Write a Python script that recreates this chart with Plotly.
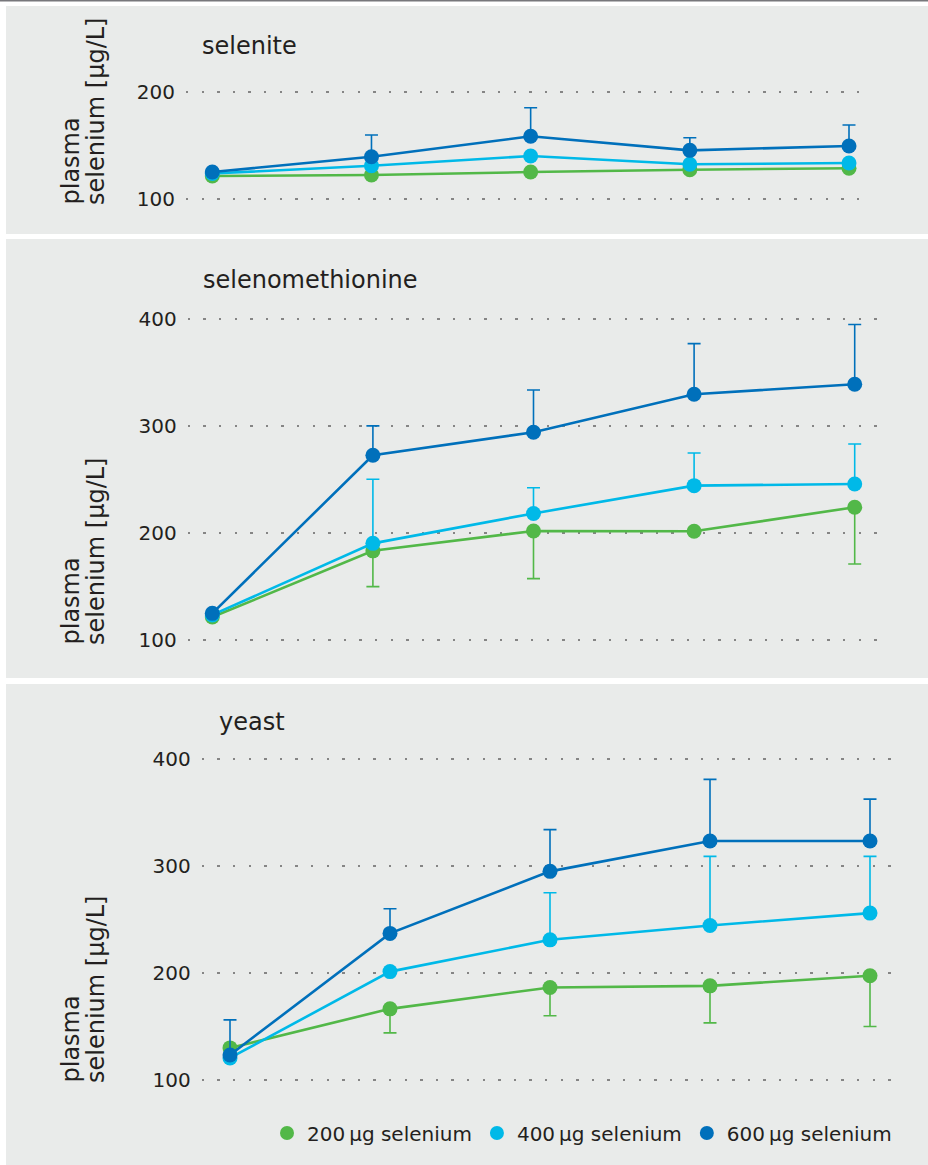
import plotly.graph_objects as go

# ---------------- data ----------------
timepoints = [0, 1, 2, 3, 4]
series_names = ["200\u2009µg selenium", "400\u2009µg selenium", "600\u2009µg selenium"]
series_colors = ["#52b848", "#00b9e8", "#0070bb"]
panel_titles = ["selenite", "selenomethionine", "yeast"]
axis_title_line1 = "plasma"
axis_title_line2 = "selenium [µg/L]"
ticks_small = [100, 200]
ticks_large = [100, 200, 300, 400]

# selenite
selenite_200 = [121.7, 122.6, 125.4, 127.6, 128.9]
selenite_400 = [124.0, 131.3, 140.3, 132.6, 133.8]
selenite_600 = [125.4, 139.7, 158.7, 145.6, 149.7]
selenite_200_err_down = [0, 0, 0, 0, 0]
selenite_400_err_up = [0, 0, 0, 0, 0]
selenite_600_err_up = [0, 20.2, 26.6, 11.8, 19.5]

# selenomethionine
selmet_200 = [121.0, 183.0, 201.6, 201.3, 223.8]
selmet_400 = [123.0, 190.0, 218.0, 244.0, 245.6]
selmet_600 = [124.5, 272.5, 294.0, 329.6, 339.0]
selmet_200_err_down = [0, 33.5, 44.6, 0, 53.1]
selmet_400_err_up = [0, 60.0, 24.0, 30.6, 37.4]
selmet_600_err_up = [0, 27.5, 39.6, 47.4, 55.8]

# yeast
yeast_200 = [130.0, 166.5, 186.5, 188.0, 197.5]
yeast_400 = [120.6, 201.3, 231.0, 244.4, 256.0]
yeast_600 = [123.4, 237.0, 295.0, 323.4, 323.4]
yeast_200_err_down = [0, 22.5, 26.5, 34.6, 47.5]
yeast_400_err_up = [0, 0, 44.0, 64.6, 53.0]
yeast_600_err_up = [32.8, 23.0, 39.0, 57.6, 39.1]

panels_values = [
    (selenite_200, selenite_400, selenite_600),
    (selmet_200, selmet_400, selmet_600),
    (yeast_200, yeast_400, yeast_600),
]
panels_errors = [
    (selenite_200_err_down, selenite_400_err_up, selenite_600_err_up),
    (selmet_200_err_down, selmet_400_err_up, selmet_600_err_up),
    (yeast_200_err_down, yeast_400_err_up, yeast_600_err_up),
]
panels_ticks = [ticks_small, ticks_large, ticks_large]

# ---------------- layout geometry (pixels) ----------------
W, H = 928, 1165
FONT = "DejaVu Sans"
TEXT = "#231f20"
BG = "#e9ebea"

geo = [
    dict(gl=186, gr=872, p0=212.3, p4=849.0, y100=199.3, k=1.0733, top=62, bot=226,
         bg=(6, 234), title_xy=(200, 46), ytitle_bottom=207),
    dict(gl=187.7, gr=878, p0=212.3, p4=854.7, y100=639.5, k=1.0683, top=295, bot=668,
         bg=(239, 678), title_xy=(201, 280), ytitle_bottom=647),
    dict(gl=201.7, gr=893, p0=230.0, p4=870.0, y100=1080.0, k=1.07, top=735, bot=1100,
         bg=(684, 1165), title_xy=(216.5, 722), ytitle_bottom=1085),
]

fig = go.Figure()
layout = dict(
    width=W, height=H, autosize=False,
    margin=dict(l=0, r=0, t=0, b=0),
    paper_bgcolor="white", plot_bgcolor="rgba(0,0,0,0)",
    font=dict(family=FONT, color=TEXT, size=20),
    showlegend=True,
    shapes=[], annotations=[],
)

for i, g in enumerate(geo):
    n = "" if i == 0 else str(i + 1)
    xs = (g["p4"] - g["p0"]) / 4.0
    xr = [-(g["p0"] - g["gl"]) / xs, 4 + (g["gr"] - g["p4"]) / xs]
    yr = [100 + (g["y100"] - g["bot"]) / g["k"], 100 + (g["y100"] - g["top"]) / g["k"]]
    layout["xaxis" + n] = dict(
        domain=[g["gl"] / W, g["gr"] / W], range=xr, anchor="y" + n,
        showgrid=False, zeroline=False, showline=False, showticklabels=False, ticks="",
        fixedrange=True,
    )
    layout["yaxis" + n] = dict(
        domain=[1 - g["bot"] / H, 1 - g["top"] / H], range=yr, anchor="x" + n,
        tickvals=panels_ticks[i], ticks="", ticklabelstandoff=10,
        showgrid=True, gridcolor="#858585", gridwidth=2.4, griddash="2.4px,13.2px",
        zeroline=False, showline=False, tickfont=dict(size=20, color=TEXT, family=FONT),
        fixedrange=True,
    )
    layout["shapes"].append(dict(type="rect", xref="paper", yref="paper", layer="below",
                                 x0=6 / W, x1=1, y0=1 - g["bg"][1] / H, y1=1 - g["bg"][0] / H,
                                 fillcolor=BG, line=dict(width=0)))
    layout["annotations"].append(dict(text=panel_titles[i], xref="paper", yref="paper",
                                      x=g["title_xy"][0] / W, y=1 - g["title_xy"][1] / H,
                                      xanchor="left", yanchor="middle", showarrow=False,
                                      font=dict(size=24, color=TEXT, family=FONT)))
    for txt, cx in ((axis_title_line1, 70), (axis_title_line2, 96)):
        layout["annotations"].append(dict(text=txt, xref="paper", yref="paper",
                                          x=cx / W, y=1 - g["ytitle_bottom"] / H,
                                          xanchor="center", yanchor="bottom", textangle=-90,
                                          showarrow=False,
                                          font=dict(size=24, color=TEXT, family=FONT)))

    vals = panels_values[i]
    errs = panels_errors[i]
    for s in range(3):
        if s == 0:
            err = dict(type="data", symmetric=False, array=[0] * 5, arrayminus=errs[s],
                       color=series_colors[s], thickness=1.6, width=6.5)
        else:
            err = dict(type="data", symmetric=False, array=errs[s], arrayminus=[0] * 5,
                       color=series_colors[s], thickness=1.6, width=6.5)
        fig.add_trace(go.Scatter(
            x=timepoints, y=vals[s], mode="lines+markers",
            line=dict(color=series_colors[s], width=2.6),
            marker=dict(color=series_colors[s], size=15),
            error_y=err, xaxis="x" + n, yaxis="y" + n,
            showlegend=False, cliponaxis=False, name=series_names[s],
        ))

layout["shapes"].append(dict(type="line", xref="paper", yref="paper", x0=0, x1=1,
                             y0=1 - 0.8 / H, y1=1 - 0.8 / H,
                             line=dict(color="#77777b", width=1.6)))

for s in range(3):
    fig.add_trace(go.Scatter(x=[None], y=[None], mode="markers", name=series_names[s],
                             marker=dict(color=series_colors[s], size=14),
                             xaxis="x3", yaxis="y3", showlegend=True))

layout["legend"] = dict(orientation="h", x=267 / W, y=1 - 1133 / H, xanchor="left",
                        yanchor="middle", bgcolor="rgba(0,0,0,0)",
                        font=dict(size=20, color=TEXT, family=FONT))

fig.update_layout(**layout)
fig.write_html("out.html")
